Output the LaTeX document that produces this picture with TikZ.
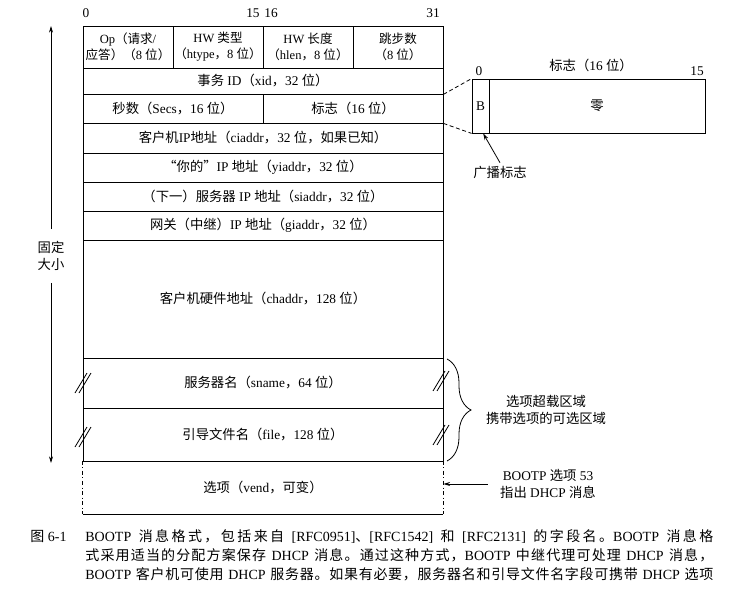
\documentclass[tikz,border=0pt]{standalone}
\usepackage{fontspec}
\setmainfont{Liberation Serif}
\newfontfamily\cjk{Noto Sans CJK SC}
\usepackage{tikz}
\usetikzlibrary{arrows.meta,decorations.pathreplacing}

% Han characters and full-width punctuation switch to the CJK font
\XeTeXinterchartokenstate=1
\newXeTeXintercharclass\HanClass
\newcount\hancount
\newcommand\sethan[2]{\hancount=#1\relax
  \loop\XeTeXcharclass\hancount=\HanClass
  \advance\hancount by 1
  \ifnum\hancount<#2\relax\repeat}
\sethan{"3000}{"3040}
\sethan{"4E00}{"A000}
\sethan{"FF00}{"FFF0}
\sethan{"201C}{"201E}
\XeTeXinterchartoks 0 \HanClass = {\cjk}
\XeTeXinterchartoks 4095 \HanClass = {\cjk}
\XeTeXinterchartoks \HanClass 0 = {\rmfamily}
\XeTeXinterchartoks \HanClass 4095 = {\rmfamily}
\XeTeXinterchartoks \HanClass \HanClass = {\hskip 0pt plus 0.8pt\relax}

\newcommand\fieldfont{\fontsize{10}{12.5}\selectfont}
\newcommand\headfont{\fontsize{9.4}{12}\selectfont}
\newcommand\capfont{\fontsize{10.5}{12.5}\selectfont}

\begin{document}
\begin{tikzpicture}[
  x=0.75pt, y=-0.75pt, line width=0.6pt,
  >={Stealth[length=5pt,width=3pt]},
  txt/.style={inner sep=0pt, align=center, font=\fieldfont},
  field/.style={draw, inner sep=0pt, align=center, font=\fieldfont, minimum width=270pt},
  half/.style={field, minimum width=135pt, minimum height=21.75pt},
  quarter/.style={field, font=\headfont, minimum width=67.5pt, minimum height=31.5pt}
]
\useasboundingbox (0,0) rectangle (750,606);

% bit numbers
\node[txt] (bit0) at (86,13) {0};
\node[txt, anchor=east] (bit15) at (260,13) {15};
\node[txt, anchor=west] (bit16) at (264,13) {16};
\node[txt] (bit31) at (433,13) {31};

% message fields
\node[quarter] (op) at (128,47) {Op（请求/\\应答）（8 位）};
\node[quarter] (htype) at (218,47) {HW 类型\\（htype，8 位）};
\node[quarter] (hlen) at (308,47) {HW 长度\\（hlen，8 位）};
\node[quarter] (hops) at (398,47) {跳步数\\（8 位）};
\node[field, minimum height=19.5pt] (xid) at (263,81) {事务 ID（xid，32 位）};
\node[half] (secs) at (173,108.5) {秒数（Secs，16 位）};
\node[half] (flags) at (353,108.5) {标志（16 位）};
\node[field, minimum height=22.5pt] (ciaddr) at (263,138) {客户机IP地址（ciaddr，32 位，如果已知）};
\node[field, minimum height=21.75pt] (yiaddr) at (263,167.5) {“你的”IP 地址（yiaddr，32 位）};
\node[field, minimum height=21.75pt] (siaddr) at (263,196.5) {（下一）服务器 IP 地址（siaddr，32 位）};
\node[field, minimum height=21.75pt] (giaddr) at (263,225.5) {网关（中继）IP 地址（giaddr，32 位）};
\node[field, minimum height=88.5pt] (chaddr) at (263,299) {客户机硬件地址（chaddr，128 位）};
\node[field, minimum height=37.5pt] (sname) at (263,383) {服务器名（sname，64 位）};
\node[field, minimum height=39.75pt] (file) at (263,434.5) {引导文件名（file，128 位）};
\node[field, draw=none, minimum height=39.75pt] (vend) at (263,487.5) {选项（vend，可变）};
\draw[dash dot] (vend.north west) -- (vend.south west) (vend.north east) -- (vend.south east);
\draw (vend.south west) -- (vend.south east);

% break marks
\foreach \x/\y in {83/382, 83/436, 441/380, 441/434}
  \draw (\x-8,\y+11) -- (\x+4,\y-9) (\x-4,\y+11) -- (\x+8,\y-9);

% fixed size
\node[txt, inner ysep=9pt] (fixed) at (51,256) {固定\\大小};
\coordinate (fixtop) at (51,26);
\coordinate (fixbot) at (51,463);
\draw[->] (fixed) -- (fixtop);
\draw[->] (fixed) -- (fixbot);

% flags in detail
\node[txt] (flagtitle) at (591,65) {标志（16 位）};
\node[txt] (flag0) at (479,71) {0};
\node[txt] (flag15) at (697,71) {15};
\node[draw, inner sep=0pt, font=\fieldfont, minimum width=12.75pt, minimum height=40.5pt] (bflag) at (480.5,106) {B};
\node[draw, inner sep=0pt, font=\fieldfont, minimum width=162pt, minimum height=40.5pt] (zero) at (597,106) {零};
\draw[densely dashed] (xid.south east) -- (bflag.north west);
\draw[densely dashed] (flags.south east) -- (bflag.south west);
\node[txt, inner sep=2pt] (bcast) at (500,172) {广播标志};
\draw[->] (bcast.north) -- ([xshift=2pt]bflag.south);

% options areas
\coordinate (bracetop) at (447,359);
\coordinate (bracebot) at (447,461);
\draw[decorate, decoration={brace, amplitude=18pt}] (bracetop) -- (bracebot);
\node[txt] (overload) at (546,410) {选项超载区域\\携带选项的可选区域};
\node[txt, inner xsep=9pt] (opt53) at (548,484) {BOOTP 选项 53\\指出 DHCP 消息};
\draw[->] (opt53.west) -- (opt53.west -| vend.east);

% caption
\node[txt, anchor=base west, font=\capfont] (fignum) at (30,541) {图 6-1};
\node[txt, anchor=base west, font=\capfont] (cap1) at (85,541) {\makebox[471pt][s]{BOOTP 消息格式，包括来自 [RFC0951]、[RFC1542] 和 [RFC2131] 的字段名。BOOTP 消息格}};
\node[txt, anchor=base west, font=\capfont] (cap2) at (85,560) {\makebox[471pt][s]{式采用适当的分配方案保存 DHCP 消息。通过这种方式，BOOTP 中继代理可处理 DHCP 消息，}};
\node[txt, anchor=base west, font=\capfont] (cap3) at (85,579) {\makebox[471pt][s]{BOOTP 客户机可使用 DHCP 服务器。如果有必要，服务器名和引导文件名字段可携带 DHCP 选项}};
\end{tikzpicture}
\end{document}
